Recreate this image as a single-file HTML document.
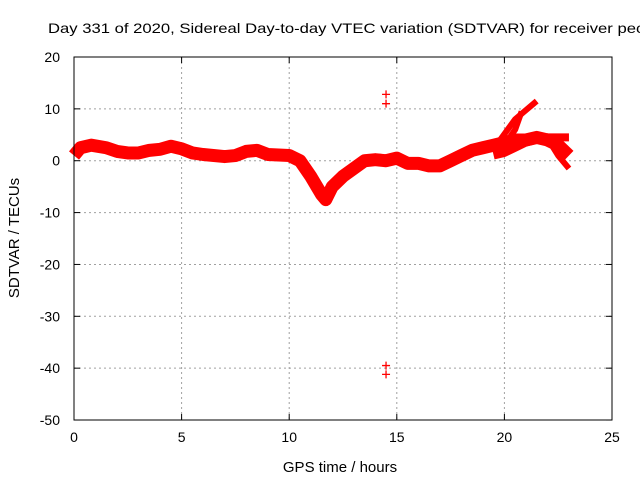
<!DOCTYPE html>
<html><head><meta charset="utf-8"><style>
body{margin:0;background:#fff;width:640px;height:480px;overflow:hidden}
svg{font-family:"Liberation Sans",sans-serif;font-size:14px}
</style></head><body>
<svg id="chart" width="640" height="480">
<text x="48" y="33" textLength="600" lengthAdjust="spacingAndGlyphs">Day 331 of 2020, Sidereal Day-to-day VTEC variation (SDTVAR) for receiver pecl</text>
<g id="grid"></g>
<g id="ticks"></g>
<g id="data"></g>
<rect x="74" y="57" width="538" height="363" fill="none" stroke="#000" stroke-width="1"/>
<text x="340" y="472" text-anchor="middle" font-size="15">GPS time / hours</text>
<text transform="translate(19,238) rotate(-90)" text-anchor="middle" font-size="15">SDTVAR / TECUs</text>
</svg>
<script>
const xTicks=[0,5,10,15,20,25];
const yTicks=[20,10,0,-10,-20,-30,-40,-50];
const mainT=[0,0.3,0.8,1.5,2,2.5,3,3.5,4,4.5,5,5.5,6,7,7.5,8,8.5,9,10,10.5,11,11.5,11.7,12,12.5,13,13.5,14,14.5,15,15.5,16,16.5,17,17.5,18,18.5,19,19.5,20,20.5,21,21.5,22,22.5,23];
const mainV=[1,2.5,3,2.5,1.8,1.5,1.5,2,2.2,2.8,2.3,1.5,1.2,0.8,1,1.8,2,1.2,1,0,-3,-6.5,-7.5,-5,-3,-1.5,0,0.2,0,0.5,-0.5,-0.5,-1,-1,0,1,2,2.5,3,3.5,4,4,4.5,4,3,1];
const branch1T=[19.8,20.5,21.5];const branch1V=[4,8,11.5];
const branch2T=[20,20.5,20.8];const branch2V=[3,6,9.5];
const branch3T=[21.9,22.5,23];const branch3V=[5,1,-1.5];
const lowerT=[19.5,20,20.5,21,22,23];const lowerV=[1,1.5,2.5,3.5,4.5,4.5];
const outT=[14.5,14.5,14.5,14.5];const outV=[12.8,11,-39.5,-41.2];
const X=h=>74+h*21.52, Y=v=>57+(20-v)*5.186;
const NS='http://www.w3.org/2000/svg';
const mk=(p,t,a)=>{const e=document.createElementNS(NS,t);for(const k in a)e.setAttribute(k,a[k]);document.getElementById(p).appendChild(e);return e;};
xTicks.forEach(t=>{
 if(t>0&&t<25){const g=mk('grid','line',{x1:X(t),x2:X(t),y1:57,y2:420,stroke:'#a0a0a0','stroke-dasharray':'2,3'});
 
 }
 const l=mk('ticks','text',{x:X(t),y:442,'text-anchor':'middle'});l.textContent=t;
 
 
});
yTicks.forEach(t=>{
 if(t<20&&t>-50){const g=mk('grid','line',{x1:74,x2:612,y1:Y(t),y2:Y(t),stroke:'#a0a0a0','stroke-dasharray':'2,3'});
 
 }
 mk('ticks','line',{x1:74,x2:80,y1:Y(t),y2:Y(t),stroke:'#000'});
 mk('ticks','line',{x1:606,x2:612,y1:Y(t),y2:Y(t),stroke:'#000'});
 const l=mk('ticks','text',{x:60,y:Y(t)+5,'text-anchor':'end'});l.textContent=t;
 
 
});
xTicks.forEach(t=>{mk('ticks','line',{x1:X(t),x2:X(t),y1:420,y2:414,stroke:'#000'});mk('ticks','line',{x1:X(t),x2:X(t),y1:57,y2:63,stroke:'#000'});});
const tracks=[[mainT,mainV,13,'main-track'],[branch1T,branch1V,6,'branch-track-1'],[branch2T,branch2V,6,'branch-track-2'],[branch3T,branch3V,6,'branch-track-3'],[lowerT,lowerV,8,'lower-track']];
tracks.forEach(([T,V,w,n])=>{
 const p=mk('data','polyline',{points:T.map((t,i)=>X(t)+','+Y(V[i])).join(' '),fill:'none',stroke:'#ff0000','stroke-width':w,'stroke-linejoin':'round','stroke-linecap':'butt'});
 
 
});
outT.forEach((t,i)=>{
 const x=X(t),y=Y(outV[i]);
 const p=mk('data','path',{d:`M${x-4},${y}H${x+4}M${x},${y-4}V${y+4}`,stroke:'#ff0000','stroke-width':1.3});
 
 
});
</script>
</body></html>
